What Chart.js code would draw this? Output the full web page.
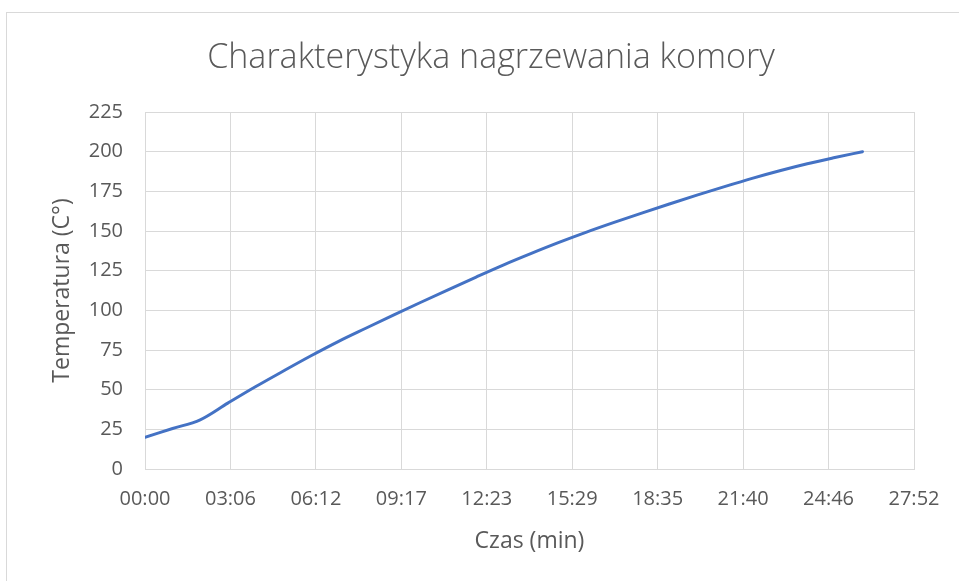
<!DOCTYPE html>
<html>
<head>
<meta charset="utf-8">
<script src="https://cdn.jsdelivr.net/npm/chart.js@4/dist/chart.umd.min.js"></script>
<style>
  html, body { margin: 0; padding: 0; background: #ffffff; }
  #wrap { position: relative; width: 959px; height: 581px; }
</style>
</head>
<body>
<div id="wrap"><canvas id="c" width="959" height="581"></canvas></div>
<script>
// ---- Data ----
const chartTitle = 'Charakterystyka nagrzewania komory';
const xAxisTitle = 'Czas (min)';
const yAxisTitle = 'Temperatura (C°)';
const timeMinutes = [0, 1, 2, 3, 4, 5, 6, 7, 8, 9, 10, 11, 12, 13, 14, 15, 16, 17, 18, 19, 20, 21, 22, 23, 24, 25, 26];
const temperatures = [20, 25.5, 31, 41.5, 51.8, 61.6, 71.2, 80.3, 88.7, 97, 105.1, 113.1, 121, 128.7, 135.9, 142.8, 149.3, 155.4, 161.3, 167, 172.6, 178, 183.2, 188, 192.4, 196.3, 200];
const xTickLabels = ['00:00', '03:06', '06:12', '09:17', '12:23', '15:29', '18:35', '21:40', '24:46', '27:52'];
const yTickValues = [0, 25, 50, 75, 100, 125, 150, 175, 200, 225];

// ---- helpers ----
function toSeconds(lbl) { const p = lbl.split(':'); return (+p[0]) * 60 + (+p[1]); }
const xMax = toSeconds(xTickLabels[xTickLabels.length - 1]);
const points = timeMinutes.map((m, i) => ({ x: m * 60, y: temperatures[i] }));

const gridColor = '#d9d9d9';
const textColor = '#595959';
const fontFamily = "'Open Sans', 'Liberation Sans', sans-serif";

const frameAndTitle = {
  id: 'frameAndTitle',
  beforeDraw(chart) {
    const ctx = chart.ctx;
    ctx.save();
    ctx.fillStyle = '#ffffff';
    ctx.fillRect(0, 0, chart.width, chart.height);
    ctx.strokeStyle = '#d9d9d9';
    ctx.lineWidth = 1;
    ctx.strokeRect(6.5, 12.5, 1200, 1200);
    ctx.fillStyle = textColor;
    ctx.font = "300 34px " + fontFamily;
    ctx.textAlign = 'center';
    ctx.textBaseline = 'middle';
    ctx.fillText(chartTitle, 491, 58);
    ctx.restore();
  }
};

new Chart(document.getElementById('c'), {
  type: 'line',
  data: {
    datasets: [{
      data: points,
      borderColor: '#4472C4',
      borderWidth: 3,
      pointRadius: 0,
      fill: false,
      cubicInterpolationMode: 'monotone',
      borderCapStyle: 'round'
    }]
  },
  options: {
    responsive: false,
    animation: false,
    layout: { padding: { left: 0, right: 45, top: 112, bottom: 0 } },
    plugins: {
      legend: { display: false },
      tooltip: { enabled: false },
      title: { display: false }
    },
    scales: {
      x: {
        type: 'linear',
        min: 0,
        max: xMax,
        afterFit(scale) { scale.height = 112; },
        afterBuildTicks(scale) {
          scale.ticks = xTickLabels.map((l, i) => ({ value: i * xMax / (xTickLabels.length - 1) }));
        },
        ticks: {
          autoSkip: false,
          maxRotation: 0,
          color: textColor,
          font: { family: fontFamily, size: 20 },
          padding: 18,
          callback: (v, i) => xTickLabels[i]
        },
        grid: { color: gridColor, lineWidth: 1, drawTicks: false },
        border: { color: gridColor, width: 1 },
        title: {
          display: true,
          text: xAxisTitle,
          color: textColor,
          font: { family: fontFamily, size: 23, lineHeight: 1.2 },
          padding: { top: 0, bottom: 26 }
        }
      },
      y: {
        min: 0,
        max: 225,
        afterFit(scale) { scale.width = 145; },
        afterBuildTicks(scale) {
          scale.ticks = yTickValues.map(v => ({ value: v }));
        },
        ticks: {
          color: textColor,
          font: { family: fontFamily, size: 20 },
          padding: 22
        },
        grid: { color: gridColor, lineWidth: 1, drawTicks: false },
        border: { color: gridColor, width: 1 },
        title: {
          display: true,
          text: yAxisTitle,
          color: textColor,
          font: { family: fontFamily, size: 23, lineHeight: 1.2 },
          padding: { top: 49, bottom: 0 }
        }
      }
    }
  },
  plugins: [frameAndTitle]
});
</script>
</body>
</html>
